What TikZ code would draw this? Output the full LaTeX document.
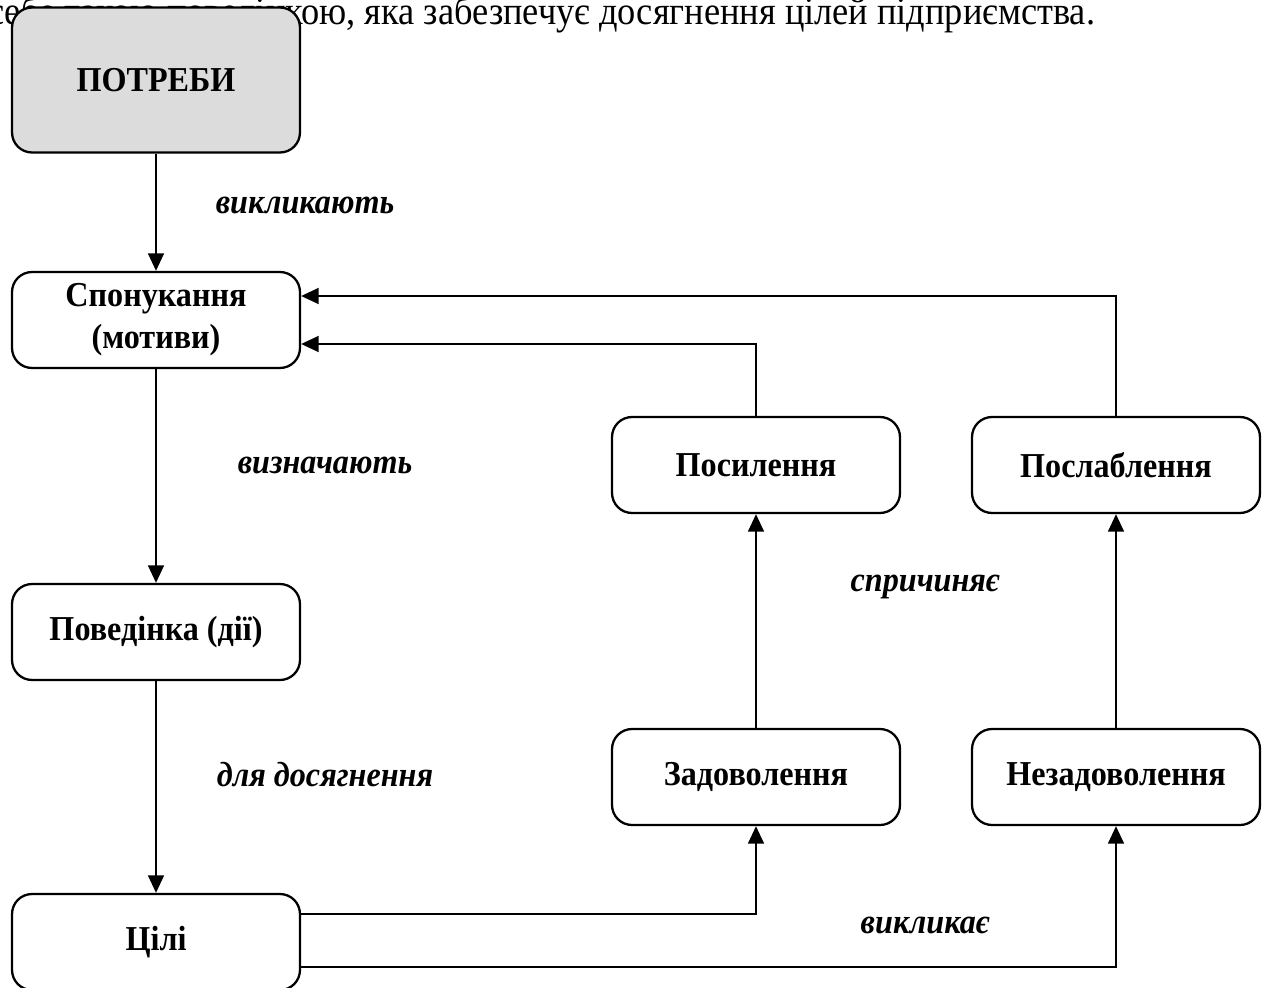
\documentclass[tikz,border=0pt]{standalone}
\usepackage{fontspec}
\setmainfont{Liberation Serif}[FakeStretch=0.92]
\usetikzlibrary{arrows.meta}

\begin{document}
\begin{tikzpicture}[x=0.02cm, y=-0.02cm,
  block/.style={draw, rounded corners=0.4cm, line width=1.3pt, minimum width=5.76cm, minimum height=1.92cm, align=center, font=\fontsize{19.9}{24}\selectfont\bfseries, fill=white},
  note/.style={font=\fontsize{19.9}{24}\selectfont\bfseries\itshape},
  arr/.style={line width=1.3pt, -{Triangle[length=10pt, width=9pt]}}]
        \useasboundingbox (0,0) rectangle (1267,987);

        \node[anchor=base west, inner sep=0pt, font=\fontsize{22.5}{27}\selectfont] (txt) at (-12,25) {себе такою поведінкою, яка забезпечує досягнення цілей підприємства.};

        \node[block, fill={rgb,255:red,220;green,220;blue,220}, minimum height=2.9cm] (potreby) at (156,80) {ПОТРЕБИ};
        \node[block] (spon) at (156,320) {Спонукання\\(мотиви)};
        \node[block] (pov) at (156,632) {Поведінка (дії)};
        \node[block] (cili) at (156,942) {Цілі};

        \node[block] (posyl) at (756,465) {Посилення};
        \node[block] (poslab) at (1116,465) {Послаблення};
        \node[block] (zad) at (756,777) {Задоволення};
        \node[block] (nezad) at (1116,777) {Незадоволення};

        \draw[arr] (potreby) -- (spon);
        \draw[arr] (spon) -- (pov);
        \draw[arr] (pov) -- (cili);

        \draw[arr] ([yshift=0.56cm]cili.east) -| (zad.south);
        \draw[arr] ([yshift=-0.5cm]cili.east) -| (nezad.south);
        \draw[arr] (zad) -- (posyl);
        \draw[arr] (nezad) -- (poslab);
        \draw[arr] (posyl.north) |- ([yshift=-0.48cm]spon.east);
        \draw[arr] (poslab.north) |- ([yshift=0.48cm]spon.east);

        \node[note] (l1) at (305,205) {викликають};
        \node[note] (l2) at (325,465) {визначають};
        \node[note] (l3) at (325,775) {для досягнення};
        \node[note] (l4) at (925,587) {спричиняє};
        \node[note] (l5) at (925,925) {викликає};
      \end{tikzpicture}
\end{document}
